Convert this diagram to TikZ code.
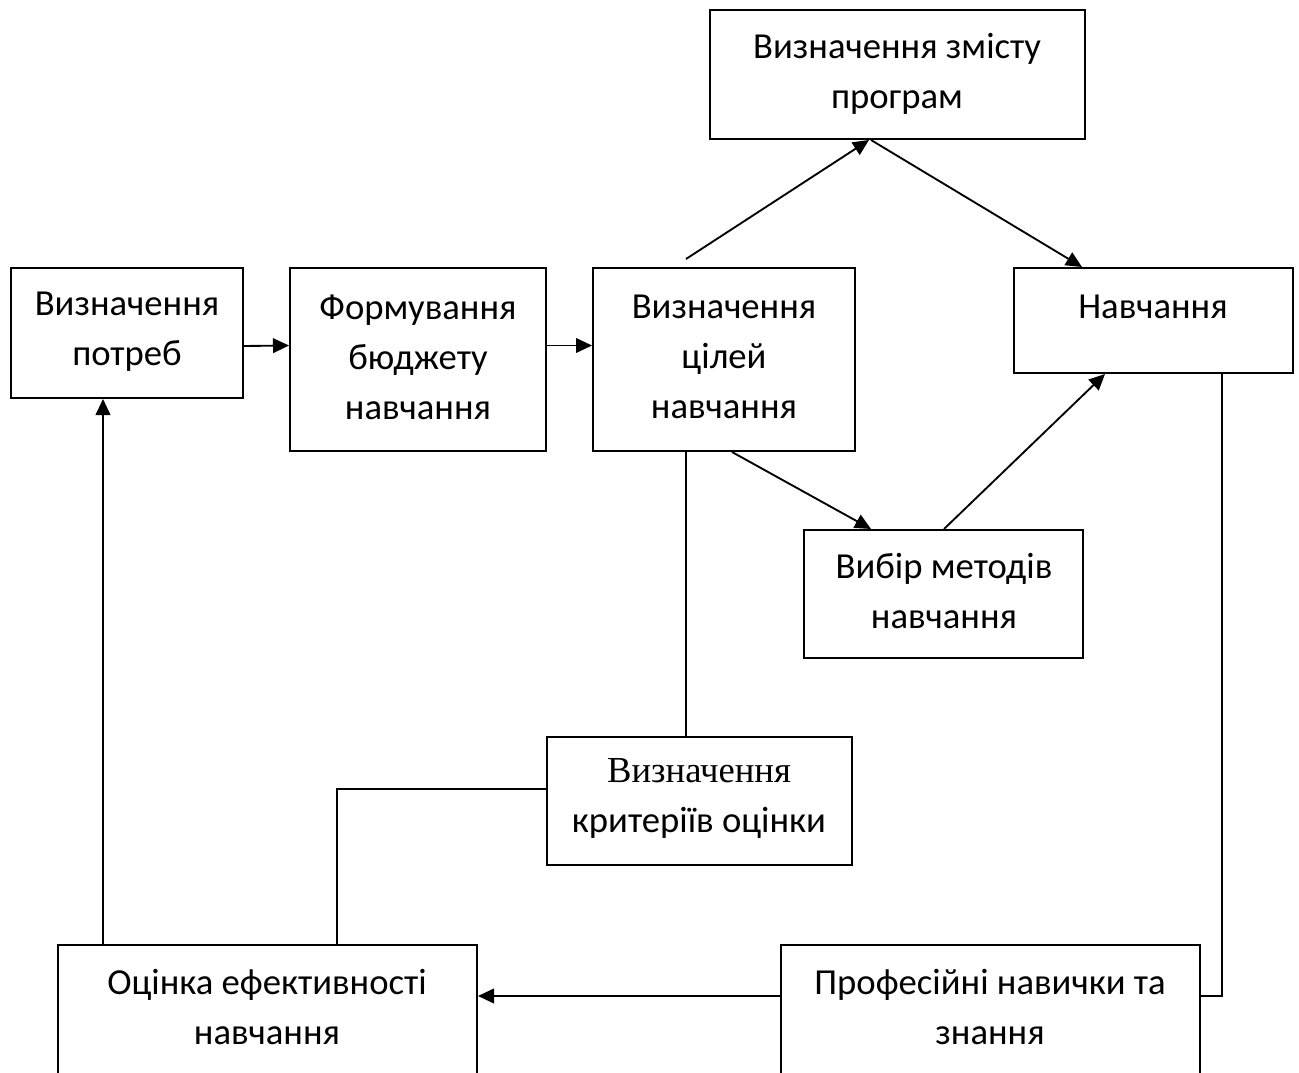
\documentclass[tikz,border=0pt]{standalone}
\usepackage{fontspec}
\setmainfont{Carlito}
\newfontfamily\serifcyr{Liberation Serif}
\usetikzlibrary{arrows.meta,calc,fit}
\begin{document}
\begin{tikzpicture}[x=0.75pt,y=-0.75pt,
  box/.style={draw, line width=1.5pt, inner sep=0pt, rectangle},
  txt/.style={align=center, font=\fontsize{27.5pt}{37.5pt}\selectfont, inner sep=0pt},
  conn/.style={line width=1.4pt},
  arr/.style={conn, -{Triangle[length=12pt,width=11pt]}}]
\useasboundingbox (0,0) rectangle (1299,1073);
\clip (0,0) rectangle (1299,1073);
\fill[white] (0,0) rectangle (1299,1073);

% boxes
\node[box, fit={(11,268) (243,398)}] (A) {};
\node[box, fit={(290,268) (546,451)}] (B) {};
\node[box, fit={(593,268) (855,451)}] (C) {};
\node[box, fit={(710,10) (1085,139)}] (D) {};
\node[box, fit={(1014,268) (1293,373)}] (E) {};
\node[box, fit={(804,530) (1083,658)}] (F) {};
\node[box, fit={(547,737) (852,865)}] (G) {};
\node[box, fit={(58,945) (477,1120)}] (H) {};
\node[box, fit={(781,945) (1200,1120)}] (I) {};

% texts
\node[txt] (tA) at (127,332) {Визначення\\потреб};
\node[txt] (tB) at (418,357) {Формування\\бюджету\\навчання};
\node[txt] (tC) at (724,357) {Визначення\\цілей\\навчання};
\node[txt] (tD) at (897,74) {Визначення змісту\\програм};
\node[txt] (tE) at (1153,307) {Навчання};
\node[txt] (tF) at (944,591) {Вибір методів\\навчання};
\node[txt] (tG) at (699,798) {{\serifcyr Визначення}\\критеріїв оцінки};
\node[txt] (tH) at (267,1007) {Оцінка ефективності\\навчання};
\node[txt] (tI) at (990,1007) {Професійні навички та\\знання};

% connectors
\draw[arr] ($(A.east)+(0,13)$) -- ($(B.west)+(0,-14)$);
\draw[arr] ($(B.east)+(0,-14)$) -- ($(C.west)+(0,-14)$);
\draw[arr] ($(C.north west)+(94,-8)$) -- ($(D.south west)+(160,0)$);
\draw[arr] ($(D.south west)+(162,0)$) -- ($(E.north west)+(69,0)$);
\draw[arr] ($(C.south west)+(140,0)$) -- ($(F.north west)+(68,0)$);
\draw[arr] ($(F.north west)+(141,0)$) -- ($(E.south west)+(92,0)$);
\draw[conn] ($(C.south west)+(94,0)$) -- ($(G.north west)+(140,0)$);
\draw[conn] ($(G.west)+(0,-12)$) -| ($(H.north west)+(280,0)$);
\draw[conn] ($(E.south west)+(209,0)$) |- ($(I.north east)+(0,52)$);
\draw[arr] ($(I.north west)+(0,52)$) -- ($(H.north east)+(0,52)$);
\draw[arr] ($(H.north west)+(46,0)$) -- ($(A.south west)+(93,0)$);
\end{tikzpicture}
\end{document}
